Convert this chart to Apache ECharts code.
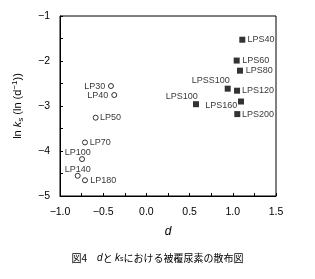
<!DOCTYPE html>
<html><head><meta charset="utf-8">
<script src="https://cdn.jsdelivr.net/npm/echarts@6/dist/echarts.min.js"></script>
<style>html,body{margin:0;padding:0;background:#fff}#c{width:315px;height:279px}</style>
</head><body><div id="c"></div>
<script>
// LP (uncoated-like) series: open circles
const lpNames = ['LP30','LP40','LP50','LP70','LP100','LP140','LP180'];
const lpD     = [-0.41,-0.372,-0.587,-0.711,-0.745,-0.795,-0.711];
const lpLnKs  = [-2.556,-2.756,-3.26,-3.81,-4.18,-4.55,-4.65];
// LPS series: filled squares
const lpsNames = ['LPS40','LPS60','LPS80','LPSS100','LPS120','LPS100','LPS160','LPS200'];
const lpsD     = [1.11,1.045,1.083,0.941,1.049,0.574,1.095,1.052];
const lpsLnKs  = [-1.527,-1.99,-2.215,-2.615,-2.66,-2.96,-2.90,-3.18];
// axis
const xTicks = [-1.0,-0.5,0.0,0.5,1.0,1.5];
const yTicks = [-5,-4,-3,-2,-1];

const labelOffsets = {
  LP30:[-16.3,0], LP40:[-16.5,0], LP50:[14.8,0], LP70:[15.2,0], LP100:[-4.3,-6.6],
  LP140:[0,-6.4], LP180:[18.3,0],
  LPS40:[18.7,0], LPS60:[19,0], LPS80:[19.3,0], LPSS100:[-16.9,-8.4], LPS120:[21,0],
  LPS100:[-14.3,-7.6], LPS160:[-19.7,3.6], LPS200:[20.7,0]
};
const FONT = '"Liberation Sans", Arial, sans-serif';
function pts(names, xs, ys){
  return names.map((n,i)=>({name:n, value:[xs[i],ys[i]],
    label:{show:true, position:'inside', offset:labelOffsets[n], formatter:n,
           color:'#000', fontSize:9, fontFamily:FONT}}));
}
const minus = s => s.replace('-', '\u2212');
const chart = echarts.init(document.getElementById('c'), null, {renderer:'canvas'});
chart.setOption({
  animation:false,
  backgroundColor:'#fff',
  grid:{left:60, top:16, right:39, bottom:83, show:true, borderColor:'#000', borderWidth:1},
  xAxis:{type:'value', min:xTicks[0], max:xTicks[xTicks.length-1], interval:0.25,
    name:'d', nameLocation:'middle', nameGap:30,
    nameTextStyle:{fontStyle:'italic', fontSize:12, color:'#000', fontFamily:FONT},
    axisLine:{onZero:false, lineStyle:{color:'#000', width:1}},
    axisTick:{inside:true, length:3, lineStyle:{color:'#000'}},
    axisLabel:{margin:11, fontSize:10.5, color:'#000', fontFamily:FONT,
      formatter:v=>{ const k = Math.round(v*4); if (k%2!==0) return ''; return minus(v.toFixed(1)); }},
    splitLine:{show:false}},
  yAxis:{type:'value', min:yTicks[0], max:yTicks[yTicks.length-1], interval:0.5,
    name:'ln {i|k}{sub|s} (ln (d{sup|\u22121}))', nameLocation:'middle', nameGap:35, nameRotate:90,
    nameTextStyle:{fontSize:11, color:'#000', fontFamily:FONT, lineHeight:14,
      rich:{i:{fontStyle:'italic', fontSize:11, fontFamily:FONT, lineHeight:14},
            sub:{fontSize:8, fontFamily:FONT, verticalAlign:'bottom', lineHeight:8},
            sup:{fontSize:8, fontFamily:FONT, verticalAlign:'top', lineHeight:8}}},
    axisLine:{onZero:false, lineStyle:{color:'#000', width:1}},
    axisTick:{inside:true, length:3, lineStyle:{color:'#000'}},
    axisLabel:{margin:10, fontSize:10.5, color:'#000', fontFamily:FONT,
      formatter:v=>{ if (Math.abs(v-Math.round(v))>1e-6) return ''; return minus(String(Math.round(v))); }},
    splitLine:{show:false}},
  title:{text:'図4\u3000{i|d}と {i|k}{sub|s}における被覆尿素の散布図', left:'center', top:248,
    textStyle:{fontSize:10, fontWeight:'normal', color:'#000', fontFamily:'"Noto Sans CJK JP", sans-serif',
      rich:{i:{fontStyle:'italic', fontSize:10, fontFamily:FONT},
            sub:{fontSize:7, fontFamily:FONT, verticalAlign:'bottom'}}}},
  series:[
    {type:'scatter', data:pts(lpNames, lpD, lpLnKs), symbol:'circle', symbolSize:5,
     itemStyle:{color:'#fff', borderColor:'#000', borderWidth:1}},
    {type:'scatter', data:pts(lpsNames, lpsD, lpsLnKs), symbol:'rect', symbolSize:6,
     itemStyle:{color:'#000'}}
  ]
});
</script></body></html>
